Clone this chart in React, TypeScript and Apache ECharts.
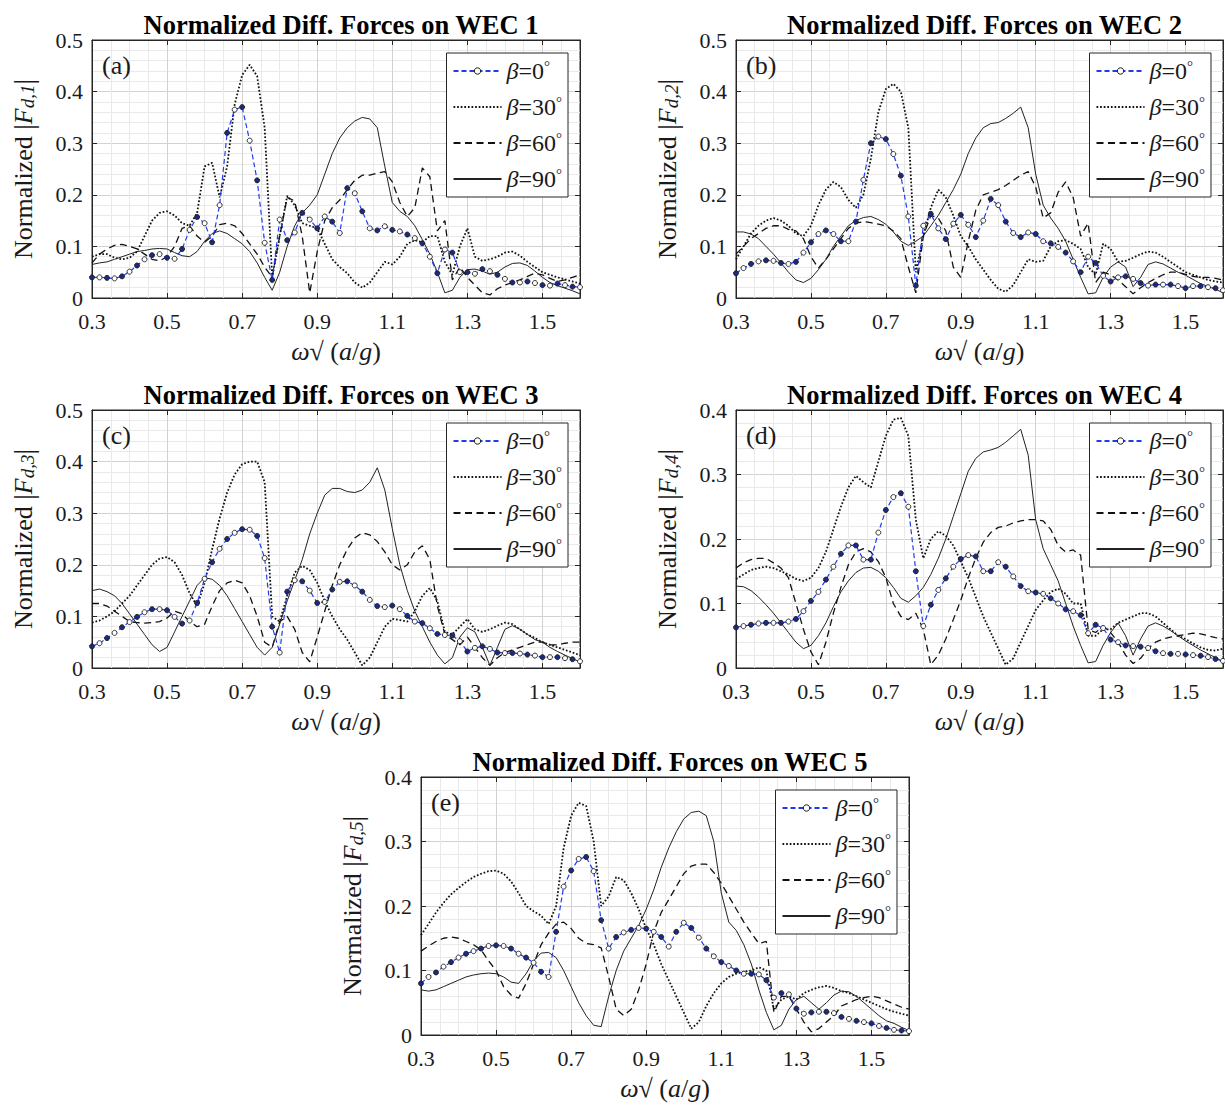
import React, { useEffect, useRef } from 'react';
import * as echarts from 'echarts';

// ---------- data ----------
const omega = [0.30,0.32,0.34,0.36,0.38,0.40,0.42,0.44,0.46,0.48,0.50,
  0.52,0.54,0.56,0.58,0.60,0.62,0.64,0.66,0.68,0.70,0.72,
  0.74,0.76,0.78,0.80,0.82,0.84,0.86,0.88,0.90,0.92,0.94,
  0.96,0.98,1.00,1.02,1.04,1.06,1.08,1.10,1.12,1.14,1.16,
  1.18,1.20,1.22,1.24,1.26,1.28,1.30,1.32,1.34,1.36,1.38,
  1.40,1.42,1.44,1.46,1.48,1.50,1.52,1.54,1.56,1.58,1.60];

const legendNames = ['β=0°', 'β=30°', 'β=60°', 'β=90°'];
const panelTitles = ['Normalized Diff. Forces on WEC 1', 'Normalized Diff. Forces on WEC 2', 'Normalized Diff. Forces on WEC 3', 'Normalized Diff. Forces on WEC 4', 'Normalized Diff. Forces on WEC 5'];
const panelTags = ['(a)', '(b)', '(c)', '(d)', '(e)'];
const yMaxes = [0.5, 0.5, 0.5, 0.4, 0.4];

const wec1Beta0 = [.040,.040,.039,.038,.042,.051,.063,.075,.083,.085,.078,
  .076,.095,.132,.157,.145,.108,.180,.320,.365,.370,.305,
  .228,.107,.035,.152,.112,.127,.165,.152,.135,.158,.148,
  .126,.213,.203,.168,.135,.131,.139,.132,.129,.123,.116,
  .106,.080,.048,.094,.088,.050,.050,.047,.056,.052,.045,
  .037,.030,.030,.032,.029,.025,.024,.028,.025,.022,.021];
const wec1Beta30 = [.080,.085,.085,.078,.075,.078,.090,.120,.150,.165,.168,
  .160,.145,.140,.165,.255,.262,.195,.255,.375,.432,.452,
  .430,.330,.040,.120,.198,.180,.145,.140,.135,.105,.075,
  .060,.048,.030,.020,.030,.050,.070,.065,.080,.105,.112,
  .108,.120,.120,.070,.045,.100,.135,.080,.072,.075,.080,
  .088,.090,.082,.070,.060,.050,.045,.040,.036,.032,.028];
const wec1Beta60 = [.068,.085,.095,.102,.104,.100,.095,.085,.075,.072,.080,
  .100,.135,.140,.120,.108,.120,.142,.145,.140,.125,.105,
  .085,.060,.040,.120,.195,.188,.120,.010,.090,.150,.175,
  .190,.210,.228,.238,.238,.242,.245,.225,.185,.158,.175,
  .252,.235,.130,.150,.035,.060,.040,.025,.010,.006,.018,
  .025,.030,.035,.042,.048,.045,.038,.032,.035,.040,.045];
const wec1Beta90 = [.065,.068,.070,.075,.080,.085,.090,.092,.095,.096,.095,
  .088,.082,.080,.090,.110,.125,.130,.125,.115,.105,.090,
  .068,.040,.015,.050,.100,.140,.165,.180,.200,.240,.280,
  .310,.330,.343,.350,.347,.330,.255,.185,.168,.158,.140,
  .113,.085,.050,.010,.015,.040,.055,.056,.052,.046,.050,
  .060,.067,.068,.063,.052,.040,.030,.024,.019,.014,.008];

const wec2Beta0 = [.048,.058,.066,.071,.073,.072,.068,.066,.070,.088,.108,
  .124,.131,.124,.110,.110,.148,.229,.300,.313,.308,.279,
  .237,.158,.024,.140,.163,.135,.114,.144,.161,.142,.118,
  .150,.192,.180,.148,.126,.118,.127,.124,.110,.106,.099,
  .088,.071,.050,.080,.068,.043,.032,.040,.042,.037,.029,
  .024,.026,.026,.026,.023,.019,.023,.023,.021,.019,.015];
const wec2Beta30 = [.075,.100,.125,.140,.150,.155,.150,.140,.125,.120,.140,
  .180,.210,.225,.215,.190,.175,.200,.270,.360,.405,.415,
  .400,.330,.050,.120,.175,.210,.195,.160,.120,.100,.075,
  .055,.035,.018,.012,.025,.050,.075,.070,.072,.100,.110,
  .112,.105,.095,.060,.045,.105,.095,.070,.072,.078,.085,
  .090,.088,.080,.070,.060,.050,.045,.040,.035,.032,.030];
const wec2Beta60 = [.085,.100,.115,.125,.135,.140,.140,.133,.130,.115,.080,
  .058,.075,.095,.115,.135,.145,.148,.146,.143,.140,.130,
  .115,.060,.010,.120,.160,.155,.130,.060,.040,.110,.170,
  .200,.205,.210,.218,.228,.238,.245,.215,.155,.165,.205,
  .225,.195,.120,.145,.030,.050,.045,.035,.022,.008,.020,
  .030,.038,.045,.050,.050,.046,.042,.040,.040,.038,.035];
const wec2Beta90 = [.128,.128,.124,.115,.100,.085,.068,.050,.035,.030,.038,
  .055,.075,.100,.120,.140,.150,.156,.158,.152,.143,.128,
  .110,.102,.110,.120,.140,.160,.185,.210,.240,.280,.310,
  .330,.338,.340,.348,.358,.370,.330,.240,.180,.155,.135,
  .110,.075,.040,.008,.010,.040,.060,.070,.060,.022,.040,
  .065,.070,.066,.058,.050,.044,.036,.028,.022,.017,.010];

const wec3Beta0 = [.042,.048,.058,.068,.079,.089,.099,.108,.114,.114,.112,
  .099,.086,.092,.126,.173,.205,.231,.250,.262,.269,.268,
  .256,.213,.080,.030,.148,.170,.168,.150,.126,.128,.152,
  .167,.168,.160,.148,.132,.120,.118,.121,.114,.101,.090,
  .087,.077,.066,.064,.063,.052,.032,.039,.042,.037,.030,
  .029,.029,.028,.026,.024,.021,.021,.021,.019,.017,.013];
const wec3Beta30 = [.088,.092,.100,.110,.125,.140,.160,.180,.200,.212,.215,
  .205,.180,.145,.120,.165,.230,.290,.340,.375,.395,.400,
  .400,.360,.100,.090,.140,.185,.198,.190,.165,.130,.100,
  .075,.055,.030,.005,.020,.050,.080,.095,.093,.090,.110,
  .140,.155,.130,.070,.065,.080,.095,.075,.070,.075,.082,
  .088,.085,.075,.065,.058,.050,.045,.040,.035,.030,.025];
const wec3Beta60 = [.125,.125,.120,.110,.100,.090,.088,.087,.088,.090,.097,
  .110,.105,.090,.080,.085,.120,.150,.165,.170,.165,.140,
  .100,.050,.040,.090,.100,.075,.030,.012,.060,.110,.160,
  .200,.230,.252,.262,.258,.245,.225,.200,.190,.200,.225,
  .237,.210,.120,.065,.055,.045,.060,.040,.020,.005,.020,
  .030,.035,.040,.045,.050,.050,.045,.045,.048,.050,.050];
const wec3Beta90 = [.150,.153,.148,.140,.125,.105,.085,.065,.045,.032,.040,
  .070,.100,.130,.160,.175,.172,.160,.140,.115,.090,.065,
  .040,.025,.040,.085,.130,.170,.210,.260,.300,.335,.348,
  .348,.342,.340,.345,.360,.388,.345,.270,.200,.150,.110,
  .080,.050,.025,.008,.020,.060,.078,.070,.040,.005,.040,
  .075,.082,.075,.065,.055,.050,.040,.032,.025,.018,.012];

const wec4Beta0 = [.063,.065,.067,.069,.070,.070,.070,.072,.076,.088,.104,
  .118,.137,.157,.177,.190,.190,.168,.168,.210,.245,.265,
  .271,.250,.150,.065,.098,.121,.139,.157,.169,.175,.173,
  .150,.150,.164,.157,.142,.127,.119,.117,.115,.108,.100,
  .091,.088,.082,.054,.067,.062,.044,.040,.035,.034,.033,
  .031,.026,.023,.022,.022,.021,.020,.019,.017,.014,.011];
const wec4Beta30 = [.138,.145,.152,.155,.157,.155,.150,.145,.138,.135,.140,
  .155,.180,.215,.250,.280,.298,.288,.280,.320,.360,.385,
  .388,.360,.230,.170,.200,.212,.205,.190,.165,.140,.110,
  .080,.055,.030,.005,.015,.040,.065,.090,.105,.118,.123,
  .115,.100,.100,.050,.050,.060,.060,.070,.075,.080,.085,
  .085,.080,.070,.060,.050,.045,.038,.032,.028,.027,.030];
const wec4Beta60 = [.155,.163,.168,.170,.170,.163,.155,.140,.100,.060,.025,
  .005,.040,.085,.125,.160,.180,.185,.180,.165,.140,.100,
  .080,.075,.085,.060,.005,.020,.045,.075,.105,.140,.170,
  .195,.210,.218,.220,.225,.228,.230,.230,.228,.215,.190,
  .180,.183,.175,.060,.055,.065,.055,.040,.020,.007,.015,
  .030,.040,.045,.048,.050,.052,.054,.053,.050,.047,.045];
const wec4Beta90 = [.127,.126,.120,.110,.098,.085,.070,.055,.040,.030,.035,
  .050,.070,.095,.118,.135,.148,.155,.156,.150,.140,.125,
  .108,.102,.112,.125,.145,.170,.200,.235,.270,.305,.325,
  .335,.338,.342,.350,.360,.370,.330,.230,.185,.160,.135,
  .100,.065,.035,.008,.010,.035,.055,.070,.050,.020,.045,
  .065,.070,.065,.058,.050,.042,.035,.028,.022,.016,.010];

const wec5Beta0 = [.080,.090,.097,.106,.113,.120,.126,.130,.134,.138,.139,
  .138,.134,.126,.120,.112,.098,.090,.160,.230,.255,.273,
  .276,.254,.178,.134,.152,.159,.163,.166,.165,.160,.152,
  .137,.160,.174,.166,.151,.134,.122,.113,.107,.100,.095,
  .095,.094,.085,.058,.065,.063,.041,.033,.035,.036,.036,
  .034,.028,.025,.022,.020,.018,.014,.011,.008,.007,.006];
const wec5Beta30 = [.155,.172,.190,.205,.218,.228,.237,.245,.250,.254,.255,
  .250,.238,.220,.200,.192,.185,.172,.200,.290,.340,.360,
  .355,.300,.200,.215,.245,.240,.220,.195,.165,.140,.110,
  .085,.060,.035,.010,.020,.045,.065,.080,.090,.095,.098,
  .100,.105,.100,.040,.055,.060,.055,.065,.070,.074,.076,
  .073,.068,.065,.060,.055,.050,.045,.040,.036,.033,.030];
const wec5Beta60 = [.130,.138,.145,.150,.152,.150,.145,.140,.132,.115,.100,
  .075,.062,.057,.080,.110,.140,.158,.172,.175,.165,.150,
  .142,.140,.135,.090,.040,.030,.040,.070,.110,.160,.190,
  .210,.230,.250,.262,.265,.265,.252,.235,.215,.195,.175,
  .158,.142,.145,.035,.060,.060,.040,.020,.005,.010,.020,
  .030,.045,.050,.055,.058,.060,.058,.053,.048,.043,.040];
const wec5Beta90 = [.070,.068,.070,.075,.080,.085,.090,.093,.095,.096,.095,
  .090,.082,.080,.095,.115,.127,.128,.120,.100,.075,.050,
  .030,.015,.013,.060,.100,.130,.150,.170,.195,.225,.260,
  .290,.315,.335,.345,.347,.340,.300,.220,.175,.162,.140,
  .110,.070,.035,.008,.015,.040,.055,.060,.050,.040,.050,
  .062,.068,.067,.060,.050,.040,.030,.022,.018,.012,.007];

const panelSeries = [
  [wec1Beta0, wec1Beta30, wec1Beta60, wec1Beta90],
  [wec2Beta0, wec2Beta30, wec2Beta60, wec2Beta90],
  [wec3Beta0, wec3Beta30, wec3Beta60, wec3Beta90],
  [wec4Beta0, wec4Beta30, wec4Beta60, wec4Beta90],
  [wec5Beta0, wec5Beta30, wec5Beta60, wec5Beta90],
];

// ---------- layout / style ----------
const W = 1225;
const H = 1106;
const PH = 258;
const layout = [
  { left: 92, top: 40, width: 488 },
  { left: 736, top: 40, width: 487 },
  { left: 92, top: 410, width: 488 },
  { left: 736, top: 410, width: 487 },
  { left: 421, top: 777, width: 488 },
];
const SERIF = '"Liberation Serif", "Times New Roman", Times, serif';
const AXIS = '#262626';
const TXT = '#1a1a1a';
const MAJOR = '#d2d2d2';
const MINOR = '#e9e9e9';

function buildOption() {
  const grid: any[] = [];
  const xAxis: any[] = [];
  const yAxis: any[] = [];
  const series: any[] = [];
  const legend: any[] = [];
  const title: any[] = [];
  const graphic: any[] = [];
  const cats = omega.map((v) => v.toFixed(2));

  layout.forEach((l, i) => {
    grid.push({
      left: l.left, top: l.top, width: l.width, height: PH,
      show: true, borderColor: AXIS, borderWidth: 1, backgroundColor: '#fff',
      containLabel: false,
    });
    // minor vertical grid (value axis, every 0.05)
    xAxis.push({
      type: 'value', gridIndex: i, min: 0.3, max: 1.6, interval: 0.05, position: 'bottom',
      axisLine: { show: false }, axisTick: { show: false }, axisLabel: { show: false },
      splitLine: { show: true, lineStyle: { color: MINOR, width: 1 } },
    });
    // main category axis
    xAxis.push({
      type: 'category', gridIndex: i, position: 'bottom',
      data: cats, boundaryGap: false,
      axisLine: { show: true, lineStyle: { color: AXIS, width: 1 } },
      axisTick: { show: true, inside: true, interval: 9, length: 5, lineStyle: { color: AXIS } },
      axisLabel: {
        interval: 9, margin: 12, color: TXT, fontFamily: SERIF, fontSize: 22,
        formatter: (v: string) => Number(v).toFixed(1),
      },
      splitLine: { show: true, interval: 9, lineStyle: { color: MAJOR, width: 1 } },
      name: '{it|ω}√ ({it|a}/{it|g})',
      nameLocation: 'middle', nameGap: 40,
      nameTextStyle: {
        fontFamily: SERIF, fontSize: 26, color: TXT,
        rich: { it: { fontFamily: SERIF, fontSize: 26, fontStyle: 'italic', color: TXT } },
      },
    });
    // top box ticks
    xAxis.push({
      type: 'category', gridIndex: i, position: 'top',
      data: cats, boundaryGap: false,
      axisLine: { show: true, lineStyle: { color: AXIS, width: 1 } },
      axisTick: { show: true, inside: true, interval: 9, length: 5, lineStyle: { color: AXIS } },
      axisLabel: { show: false }, splitLine: { show: false },
    });
    yAxis.push({
      type: 'value', gridIndex: i, min: 0, max: yMaxes[i], interval: 0.1, position: 'left',
      axisLine: { show: true, lineStyle: { color: AXIS, width: 1 } },
      axisTick: { show: true, inside: true, length: 5, lineStyle: { color: AXIS } },
      minorTick: { show: false, splitNumber: 5 },
      minorSplitLine: { show: true, lineStyle: { color: MINOR, width: 1 } },
      splitLine: { show: true, lineStyle: { color: MAJOR, width: 1 } },
      axisLabel: {
        margin: 9, color: TXT, fontFamily: SERIF, fontSize: 22,
        formatter: (v: number) => (v === 0 ? '0' : v.toFixed(1)),
      },
      name: 'Normalized {bar||}{it|F}{sub|d,' + (i + 1) + '}{bar||}',
      nameLocation: 'middle', nameRotate: 90, nameGap: 55,
      nameTextStyle: {
        fontFamily: SERIF, fontSize: 26, color: TXT,
        rich: {
          bar: { fontFamily: SERIF, fontSize: 28, color: TXT },
          it: { fontFamily: SERIF, fontSize: 26, fontStyle: 'italic', color: TXT },
          sub: { fontFamily: SERIF, fontSize: 19, fontStyle: 'italic', color: TXT, verticalAlign: 'bottom', padding: [8, 0, 0, 0] },
        },
      },
    });
    // right box ticks
    yAxis.push({
      type: 'value', gridIndex: i, min: 0, max: yMaxes[i], interval: 0.1, position: 'right',
      axisLine: { show: true, lineStyle: { color: AXIS, width: 1 } },
      axisTick: { show: true, inside: true, length: 5, lineStyle: { color: AXIS } },
      axisLabel: { show: false }, splitLine: { show: false },
    });

    const data = panelSeries[i];
    const xi = 3 * i + 1;
    const yi = 2 * i;
    series.push({
      type: 'line', name: legendNames[0], xAxisIndex: xi, yAxisIndex: yi, data: data[0],
      symbol: 'circle', symbolSize: 5, showSymbol: true, showAllSymbol: true, silent: true, z: 6,
      lineStyle: { color: '#1f3cf2', width: 1.2, type: [5, 3] },
      itemStyle: {
        color: (p: any) => (p.dataIndex % 2 ? '#ffffff' : '#1b2a80'),
        borderColor: '#1c1c1c', borderWidth: 0.9,
      },
    });
    series.push({
      type: 'line', name: legendNames[1], xAxisIndex: xi, yAxisIndex: yi, data: data[1],
      symbol: 'none', silent: true, z: 3, color: '#111',
      lineStyle: { color: '#111', width: 1.8, type: [1.7, 1.9] },
    });
    series.push({
      type: 'line', name: legendNames[2], xAxisIndex: xi, yAxisIndex: yi, data: data[2],
      symbol: 'none', silent: true, z: 4, color: '#111',
      lineStyle: { color: '#111', width: 1.3, type: [7, 4.5] },
    });
    series.push({
      type: 'line', name: legendNames[3], xAxisIndex: xi, yAxisIndex: yi, data: data[3],
      symbol: 'none', silent: true, z: 5, color: '#222',
      lineStyle: { color: '#222', width: 1 },
    });

    const hidden = { color: 'rgba(0,0,0,0)', borderWidth: 0, opacity: 0 };
    legend.push({
      orient: 'vertical', right: W - (l.left + l.width - 12), top: l.top + 13,
      data: legendNames.map((n, k) => (k === 0
        ? { name: n, itemStyle: { color: '#ffffff', borderColor: '#1c1c1c', borderWidth: 1 } }
        : { name: n, itemStyle: hidden })),
      itemWidth: 48, itemHeight: 8, itemGap: 10, padding: [5, 6, 5, 6],
      borderColor: AXIS, borderWidth: 1, backgroundColor: '#fff', selectedMode: false,
      formatter: (name: string) => {
        const m = name.match(/^β=(\d+)°$/);
        return '{b|β}{n|=' + (m ? m[1] : '') + '}{d|°}';
      },
      textStyle: {
        fontFamily: SERIF, fontSize: 24, lineHeight: 26, color: TXT,
        rich: {
          b: { fontFamily: SERIF, fontSize: 24, fontStyle: 'italic', color: TXT, lineHeight: 26 },
          n: { fontFamily: SERIF, fontSize: 24, color: TXT, lineHeight: 26 },
          d: { fontFamily: SERIF, fontSize: 15, color: TXT, verticalAlign: 'top', lineHeight: 14 },
        },
      },
    });

    title.push({
      text: panelTitles[i], left: l.left + l.width / 2, top: l.top - 34, textAlign: 'center',
      textStyle: { fontFamily: SERIF, fontSize: 26.5, fontWeight: 'bold', color: '#000' },
    });

    graphic.push({
      type: 'text', left: l.left + 10, top: l.top + 12, z: 20,
      style: { text: panelTags[i], font: '26px ' + SERIF, fill: TXT },
    });
  });

  return {
    animation: false,
    backgroundColor: '#fff',
    grid, xAxis, yAxis, series, legend, title, graphic,
  };
}

export default function App() {
  const ref = useRef<HTMLDivElement>(null);
  useEffect(() => {
    if (!ref.current) return;
    const chart = echarts.init(ref.current, null, { renderer: 'svg' });
    chart.setOption(buildOption() as any);
    return () => chart.dispose();
  }, []);
  return (
    <div
      ref={ref}
      style={{ position: 'absolute', left: 0, top: 0, width: W, height: H, background: '#fff' }}
    />
  );
}
